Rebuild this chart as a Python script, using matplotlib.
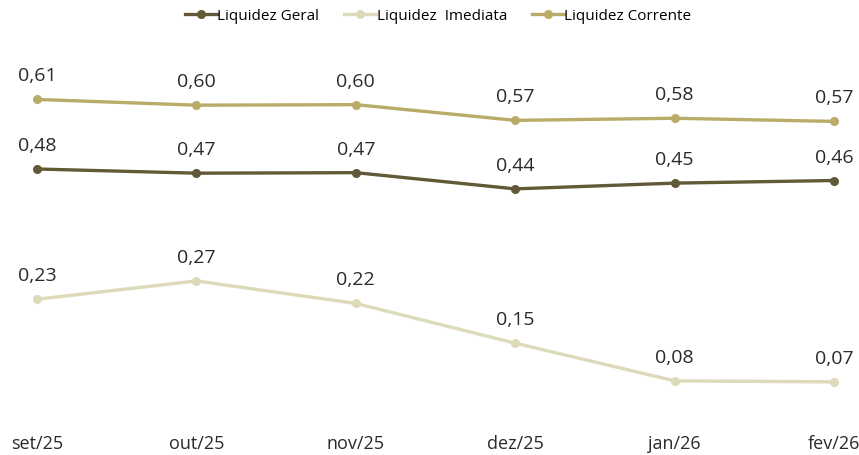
import matplotlib.pyplot as plt

plt.rcParams['font.family'] = ['Open Sans', 'DejaVu Sans']

meses = ['set/25', 'out/25', 'nov/25', 'dez/25', 'jan/26', 'fev/26']
geral = [0.481, 0.473, 0.474, 0.443, 0.454, 0.459]
imediata = [0.232, 0.267, 0.224, 0.148, 0.076, 0.074]
corrente = [0.614, 0.603, 0.604, 0.574, 0.578, 0.572]

series = [('Liquidez Geral', geral, '#625937'),
          ('Liquidez  Imediata', imediata, '#dcdab8'),
          ('Liquidez Corrente', corrente, '#b9ac68')]

fig = plt.figure(figsize=(8.59, 4.56), dpi=100)
ax = fig.add_axes([0, 31/456, 1, 425/456])
x = range(len(meses))
for nome, vals, cor in series:
    ax.plot(x, vals, color=cor, lw=2.4, marker='o', ms=5.5, label=nome)
    for xi, v in zip(x, vals):
        ax.annotate(f'{v:.2f}'.replace('.', ','), (xi, v), xytext=(0, 24),
                    textcoords='offset pixels', ha='center', va='center',
                    fontsize=14, color='#2a2a2a')

ax.set_xlim(-37/159.4, 5 + 25/159.4)
ax.set_ylim(-0.0065, 0.806)
ax.set_xticks(list(x))
ax.set_xticklabels(meses, fontsize=13, color='#2a2a2a')
ax.tick_params(axis='x', length=0, pad=7)
ax.set_yticks([])
for s in ax.spines.values():
    s.set_visible(False)

fig.legend(loc='upper center', ncol=3, frameon=False, fontsize=11,
           bbox_to_anchor=(0.51, 1.01), handlelength=2.1, handletextpad=0.05,
           columnspacing=1.6)
fig.savefig('out.png', dpi=100)
